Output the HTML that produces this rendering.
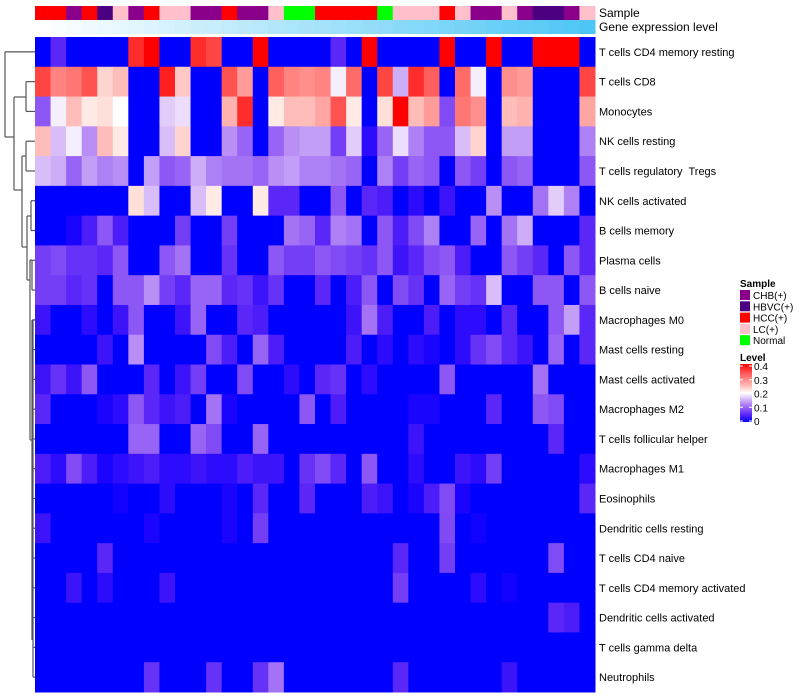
<!DOCTYPE html>
<html><head><meta charset="utf-8"><style>
html,body{margin:0;padding:0;background:#fff;}
svg{display:block;font-family:"Liberation Sans",sans-serif;}
</style></head><body>
<svg id="chart" width="800" height="700" viewBox="0 0 800 700"></svg>
<script>
const rowNames = ["T cells CD4 memory resting","T cells CD8","Monocytes","NK cells resting","T cells regulatory  Tregs","NK cells activated","B cells memory","Plasma cells","B cells naive","Macrophages M0","Mast cells resting","Mast cells activated","Macrophages M2","T cells follicular helper","Macrophages M1","Eosinophils","Dendritic cells resting","T cells CD4 naive","T cells CD4 memory activated","Dendritic cells activated","T cells gamma delta","Neutrophils"];
const sampleGroups = ["HCC(+)","HCC(+)","CHB(+)","HCC(+)","HBVC(+)","LC(+)","CHB(+)","HCC(+)","LC(+)","LC(+)","CHB(+)","CHB(+)","HCC(+)","CHB(+)","CHB(+)","LC(+)","Normal","Normal","HCC(+)","HCC(+)","HCC(+)","HCC(+)","Normal","LC(+)","LC(+)","LC(+)","HCC(+)","LC(+)","CHB(+)","CHB(+)","LC(+)","CHB(+)","HBVC(+)","HBVC(+)","CHB(+)","LC(+)"];
const geneLevel = [0,0.03,0.06,0.09,0.11,0.14,0.17,0.2,0.23,0.26,0.29,0.31,0.34,0.37,0.4,0.43,0.46,0.49,0.51,0.54,0.57,0.6,0.63,0.66,0.69,0.71,0.74,0.77,0.8,0.83,0.86,0.89,0.91,0.94,0.97,1];
const legendGroups = ["CHB(+)","HBVC(+)","HCC(+)","LC(+)","Normal"];
const levelTicks = [0.4,0.3,0.2,0.1,0];
const r0 = [0,0.05,0,0,0,0,0.37,0.4,0,0,0.37,0.35,0,0,0.4,0,0,0,0,0.05,0,0.4,0,0,0,0,0.4,0,0,0.4,0,0,0.4,0.4,0.4,0];
const r1 = [0.35,0.3,0.31,0.34,0.23,0.25,0,0,0.38,0.24,0,0,0.34,0.28,0,0.33,0.3,0.29,0.3,0.19,0.32,0,0.35,0.15,0.37,0.33,0,0.32,0.19,0,0.29,0.28,0,0,0,0.35];
const r2 = [0.09,0.19,0.25,0.21,0.22,0.2,0,0,0.17,0.18,0,0,0.26,0.37,0,0.21,0.25,0.25,0.27,0.34,0.21,0,0.22,0.4,0.25,0.28,0.08,0.31,0.29,0,0.25,0.26,0,0,0,0.27];
const r3 = [0.25,0.16,0.19,0.13,0.25,0.21,0,0,0.16,0.23,0,0,0.13,0.1,0,0.1,0.13,0.14,0.14,0.07,0.17,0.02,0.1,0.18,0.12,0.09,0.09,0.16,0.23,0,0.14,0.14,0,0,0,0.12];
const r4 = [0.16,0.15,0.1,0.14,0.12,0.13,0,0.14,0.09,0.1,0.15,0.12,0.11,0.11,0.1,0.13,0.14,0.12,0.12,0.11,0.1,0,0.12,0.07,0.1,0.09,0,0.09,0.07,0,0.09,0.1,0,0,0,0.09];
const r5 = [0,0,0,0,0,0,0.22,0.16,0,0,0.16,0.21,0,0,0.21,0.05,0.05,0,0,0.09,0,0.05,0.04,0,0.02,0,0.03,0,0,0.13,0,0,0.11,0.17,0.12,0];
const r6 = [0,0,0.01,0.04,0.09,0.04,0,0,0,0.07,0,0,0.07,0,0,0,0.11,0.1,0.05,0.12,0.11,0,0.09,0.04,0.08,0.12,0,0,0.1,0,0.11,0.15,0,0,0,0.05];
const r7 = [0.07,0.08,0.06,0.06,0.05,0.09,0,0,0.09,0.11,0,0,0.06,0,0,0.09,0.07,0.07,0.09,0.08,0.07,0.06,0.09,0.03,0.05,0.08,0.09,0.04,0,0,0.09,0.07,0.05,0,0.09,0.05];
const r8 = [0.07,0.07,0.05,0.06,0,0.09,0.09,0.13,0.07,0.05,0.1,0.1,0.05,0.06,0.03,0.06,0,0,0.05,0,0.04,0.09,0,0.08,0.06,0,0.1,0.07,0.06,0.16,0,0,0.09,0.09,0,0.09];
const r9 = [0.03,0,0,0.02,0,0.03,0.09,0,0,0.03,0.1,0,0,0.05,0.04,0,0,0,0,0,0.03,0.11,0.04,0,0,0.04,0,0.02,0.02,0,0.05,0,0,0.09,0.14,0.05];
const r10 = [0,0,0,0,0.03,0,0.13,0,0,0,0,0.08,0.04,0,0.1,0.04,0,0,0,0,0.04,0,0.02,0,0.02,0.01,0,0.02,0.06,0.08,0.05,0.03,0,0.1,0,0.05];
const r11 = [0.03,0.06,0.03,0.09,0,0,0,0.05,0,0.03,0.07,0,0,0.08,0,0,0.02,0,0.05,0.06,0,0.02,0,0,0,0,0.09,0,0,0,0,0,0.11,0,0,0];
const r12 = [0.05,0,0,0,0.01,0.02,0.09,0.05,0.03,0.04,0,0.11,0.01,0,0,0,0,0.09,0,0.04,0,0,0,0,0.01,0.01,0,0,0,0.05,0,0,0.09,0.08,0,0];
const r13 = [0,0,0,0,0,0,0.1,0.1,0,0,0.1,0.08,0,0,0.1,0,0,0,0,0,0,0,0,0,0.03,0,0,0,0,0,0,0,0,0.05,0,0];
const r14 = [0.04,0.02,0.08,0.04,0.01,0.02,0.03,0.04,0.02,0.02,0.03,0.02,0.02,0.04,0.03,0.03,0,0.06,0.08,0.05,0,0.09,0,0,0.02,0,0,0.03,0.02,0.07,0,0,0,0,0,0.02];
const r15 = [0,0,0,0,0,0.005,0,0,0.02,0,0,0,0.01,0,0.05,0,0,0.05,0,0,0,0.04,0.03,0,0.01,0.04,0.08,0.01,0,0,0,0,0,0,0,0.05];
const r16 = [0.03,0,0,0,0,0,0,0.01,0,0,0,0,0.01,0,0.07,0,0,0,0,0,0,0,0,0,0,0,0.08,0,0.005,0,0,0,0,0,0,0];
const r17 = [0,0,0,0,0.05,0,0,0,0,0,0,0,0,0,0,0,0,0,0,0,0,0,0,0.05,0,0,0.07,0,0,0,0,0,0,0.08,0,0];
const r18 = [0,0,0.03,0,0.02,0,0,0,0.03,0,0,0,0,0,0,0,0,0,0,0,0,0,0,0.07,0,0,0,0,0.02,0,0.005,0,0,0,0,0];
const r19 = [0,0,0,0,0,0,0,0,0,0,0,0,0,0,0,0,0,0,0,0,0,0,0,0,0,0,0,0,0,0,0,0,0,0.05,0.04,0];
const r20 = [0,0,0,0,0,0,0,0,0,0,0,0,0,0,0,0,0,0,0,0,0,0,0,0,0,0,0,0,0,0,0,0,0,0,0,0];
const r21 = [0,0,0,0,0,0,0,0.06,0,0,0,0.06,0,0,0.06,0.11,0,0,0,0,0,0,0,0.05,0,0,0,0,0,0,0.03,0,0,0,0,0];
const values = [r0,r1,r2,r3,r4,r5,r6,r7,r8,r9,r10,r11,r12,r13,r14,r15,r16,r17,r18,r19,r20,r21];

const NS = "http://www.w3.org/2000/svg";
const svg = document.getElementById("chart");
const gx0 = 35, gx1 = 595, gy0 = 37, gy1 = 692;
const nCol = sampleGroups.length, nRow = rowNames.length;
const cw = (gx1 - gx0) / nCol, rh = (gy1 - gy0) / nRow;
const xPos = c => gx0 + c * cw;
const yPos = r => gy0 + r * rh;
const groupColor = {"CHB(+)":"#8B008B","HBVC(+)":"#4B0082","HCC(+)":"#FF0000","LC(+)":"#FFC0CB","Normal":"#00FF00"};
function levelColor(v){
  v = Math.max(0, Math.min(0.4, v));
  if (v <= 0.2){
    const t = v/0.2;
    const r = Math.round(255*Math.pow(t,0.75)), g = Math.round(255*Math.pow(t,1.35)), b = Math.round(255 - 10*Math.sin(Math.PI*t));
    return `rgb(${r},${g},${b})`;
  }
  const t = (v-0.2)/0.2;
  const g = Math.round(245*Math.pow(1-t,0.9)), b = Math.round(240*Math.pow(1-t,0.9));
  return `rgb(255,${g},${b})`;
}
function geneColor(t){
  const r = Math.round(255 + (77-255)*t), g = Math.round(255 + (198-255)*t), b = Math.round(255 + (245-255)*t);
  return `rgb(${r},${g},${b})`;
}
function mk(tag, attrs){ const e = document.createElementNS(NS, tag); for (const k in attrs) e.setAttribute(k, attrs[k]); svg.appendChild(e); return e; }

sampleGroups.forEach((g, c) => {
  const e = mk("rect", {x: xPos(c), y: 6, width: cw + 0.5, height: 14, fill: groupColor[g]});
  
  
});
geneLevel.forEach((v, c) => {
  const e = mk("rect", {x: xPos(c), y: 20, width: cw + 0.5, height: 14, fill: geneColor(v)});
  
  
});
let t = mk("text", {x: 599, y: 17, "font-size": 12, fill: "#000"}); t.textContent = "Sample";


t = mk("text", {x: 599, y: 31, "font-size": 12, fill: "#000"}); t.textContent = "Gene expression level";



values.forEach((row, r) => {
  row.forEach((v, c) => {
    const e = mk("rect", {x: xPos(c), y: yPos(r), width: cw + 0.5, height: rh + 0.5, fill: levelColor(v)});
    
    
  });
  const lb = mk("text", {x: 599, y: yPos(r) + rh/2 + 4, "font-size": 11, fill: "#000", "xml:space": "preserve", style: "white-space:pre"});
  lb.textContent = rowNames[r];
  
  
});

const cy = r => yPos(r) + rh/2;
const dLines = [
  [5, cy(0), 35, cy(0)], [5, cy(0), 5, 137], [5, 137, 14, 137],
  [14, 97, 14, 190], [14, 97, 26, 97], [26, cy(1), 26, cy(2)], [26, cy(1), 35, cy(1)], [26, cy(2), 35, cy(2)],
  [14, 190, 22, 190], [22, 156, 22, 247], [22, 156, 26, 156], [26, cy(3), 26, cy(4)], [26, cy(3), 35, cy(3)], [26, cy(4), 35, cy(4)],
  [22, 247, 27, 247], [27, 216, 27, 280], [27, 216, 31, 216], [31, cy(5), 31, cy(6)], [31, cy(5), 35, cy(5)], [31, cy(6), 35, cy(6)],
  [27, 280, 30, 280], [30, 260, 30, 440], [30, 260, 32, 260], [32, cy(7), 32, cy(8)], [32, cy(7), 35, cy(7)], [32, cy(8), 35, cy(8)],
  [30, 440, 32, 440], [32, 320, 32, 640], [32, 320, 35, 320]
];
for (let r = 9; r < nRow; r++) dLines.push([33, cy(r), 35, cy(r)]);
dLines.push([33, cy(9), 33, cy(21)]);
dLines.forEach(l => {
  const e = mk("line", {x1: l[0], y1: l[1], x2: l[2], y2: l[3], stroke: "#555", "stroke-width": 1.2});
  
  
});

t = mk("text", {x: 740, y: 287, "font-size": 10, "font-weight": "bold", fill: "#000"}); t.textContent = "Sample";


legendGroups.forEach((g, i) => {
  const y = 290 + i * 11.3;
  const s = mk("rect", {x: 740, y: y, width: 10, height: 10, fill: groupColor[g]});
  
  
  const tx = mk("text", {x: 753, y: y + 9, "font-size": 10, fill: "#000"}); tx.textContent = g;
  
  
});
t = mk("text", {x: 740, y: 361, "font-size": 10, "font-weight": "bold", fill: "#000"}); t.textContent = "Level";


const defs = mk("defs", {});
const grad = document.createElementNS(NS, "linearGradient");
grad.setAttribute("id", "lvlgrad"); grad.setAttribute("x1", "0"); grad.setAttribute("y1", "1"); grad.setAttribute("x2", "0"); grad.setAttribute("y2", "0");
for (let i = 0; i <= 8; i++) { const st = document.createElementNS(NS, "stop"); st.setAttribute("offset", i/8); st.setAttribute("stop-color", levelColor(0.05*i)); grad.appendChild(st); }
defs.appendChild(grad);
const lb = mk("rect", {x: 740, y: 364, width: 12, height: 58, fill: "url(#lvlgrad)"});


levelTicks.forEach(v => {
  const y = 421 - (v / 0.4) * 55;
  const tx = mk("text", {x: 754, y: y + 4, "font-size": 10, fill: "#000"}); tx.textContent = String(v);
  
  
  mk("line", {x1: 740, y1: y, x2: 743, y2: y, stroke: "#fff", "stroke-width": 1});
  mk("line", {x1: 749, y1: y, x2: 752, y2: y, stroke: "#fff", "stroke-width": 1});
});
</script>
</body></html>
